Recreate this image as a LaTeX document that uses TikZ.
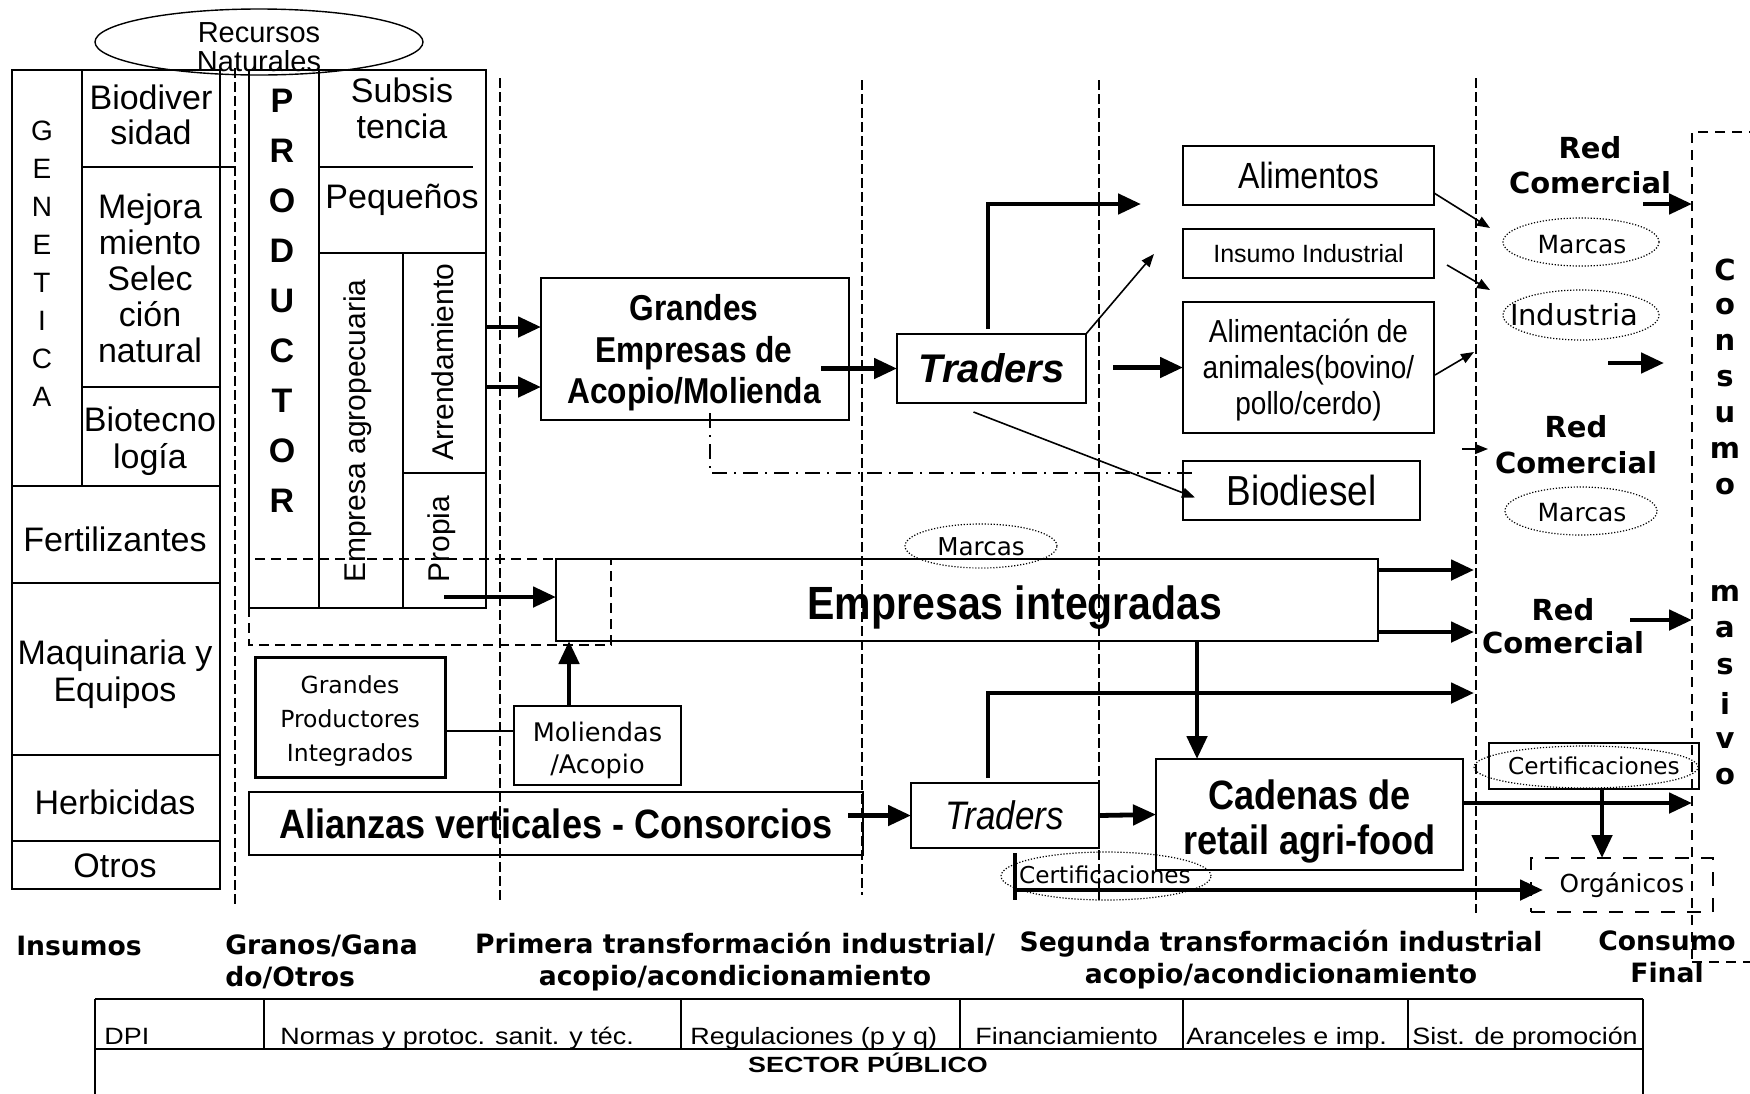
\documentclass[tikz,border=0pt]{standalone}
\usepackage{fontspec}
\setmainfont{Liberation Sans}
\newfontfamily\verd{DejaVu Sans}
\newfontfamily\ancha[FakeStretch=1.22]{Liberation Sans}
\newfontfamily\celdafont[FakeStretch=1.14]{Liberation Sans}
\newfontfamily\angosta[FakeStretch=0.88]{Liberation Sans}
\usetikzlibrary{arrows.meta, shapes.geometric, positioning, calc}

\newcommand{\tam}[2]{\fontsize{#1}{#2}\selectfont}

\tikzset{
  caja/.style={draw, line width=0.8pt, inner sep=0pt, outer sep=0pt, align=center},
  celda/.style={line width=0.9pt},
  guia/.style={dash pattern=on 5pt off 2pt, line width=0.6pt},
  raya/.style={dash pattern=on 5pt off 3pt, line width=0.7pt},
  rayagruesa/.style={dash pattern=on 5pt off 3.5pt, line width=1.3pt},
  rayapunto/.style={dash pattern=on 7.5pt off 3.5pt on 1pt off 3.5pt, line width=0.7pt},
  flecha/.style={line width=2.4pt, -{Triangle[length=11.5pt,width=10pt]}},
  flechita/.style={line width=0.8pt, -{Triangle[length=6.5pt,width=5pt]}},
  nube/.style={ellipse, draw, dash pattern=on 0.6pt off 0.9pt, line width=0.6pt, inner sep=0pt},
  nubetxt/.style={font=\verd\tam{12.5}{12.5}},
  redcom/.style={font=\verd\bfseries\tam{14.5}{17.5}, align=center},
  rotulo/.style={font=\verd\bfseries\tam{13.3}{16}, align=center, inner sep=0pt},
  letra/.style={font=\bfseries\tam{17}{17}},
  tabla/.style={font=\celdafont\tam{11.8}{11.8}, anchor=base west, inner sep=0pt},
  texto/.style={align=center, inner sep=0pt},
}

\begin{document}
\begin{tikzpicture}[x=0.5pt, y=-0.5pt]
\useasboundingbox (0,0) rectangle (1750,1093);

\draw[celda] (12,70) rectangle (220,889);
\draw[celda] (82,70) -- (82,486);
\draw[celda] (82,167) -- (235,167);
\draw[celda] (82,387) -- (220,387);
\foreach \y in {486,583,755,841}
  \draw[celda] (12,\y) -- (220,\y);
\foreach \l [count=\i from 0] in {G,E,N,E,T,I,C,A}
  \node[font=\tam{14}{14}] (gen\i) at (42,131+38*\i) {\l};
\node[font=\tam{17}{17.5}, align=center] (biodiv) at (151,115) {Biodiver\\sidad};
\node[font=\tam{17}{18}, align=center] (mejora) at (150,278) {Mejora\\miento\\Selec\\ción\\natural};
\node[font=\tam{17}{18.5}, align=center] (biotec) at (150,441) {Biotecno\\logía};
\node[font=\tam{17}{17}] (fert) at (115,539) {Fertilizantes};
\node[font=\tam{17}{18.5}, align=center] (maq) at (115,674) {Maquinaria y\\Equipos};
\node[font=\tam{17}{17}] (herb) at (115,802) {Herbicidas};
\node[font=\tam{17}{17}] (otros) at (115,866) {Otros};

\draw[celda] (249,70) rectangle (486,608);
\draw[celda] (319,70) -- (319,608);
\draw[celda] (319,167) -- (473,167);
\draw[celda] (319,253) -- (486,253);
\draw[celda] (403,253) -- (403,608);
\draw[celda] (403,473) -- (486,473);
\foreach \l [count=\i from 0] in {P,R,O,D,U,C,T,O,R}
  \node[letra] (prod\i) at (282,101+50*\i) {\l};
\node[font=\tam{17}{18}, align=center] (subs) at (402,108) {Subsis\\tencia};
\node[font=\tam{17}{17}] (peq) at (402,200) {Pequeños};
\node[font=\tam{15}{15}, rotate=90] (empagro) at (358,431) {Empresa agropecuaria};
\node[font=\tam{15}{15}, rotate=90] (arrend) at (443,362) {Arrendamiento};
\node[font=\tam{15}{15}, rotate=90] (propia) at (442,539) {Propia};

\node[ellipse, draw, line width=0.7pt, minimum width=164pt, minimum height=33pt] (recursos) at (259,42) {};
\node[font=\tam{14.5}{14.5}, align=center] (recursostxt) at (259,47) {Recursos\\Naturales};

\foreach \x/\a/\b in {235/68/905, 500/78/902, 862/80/895, 1099/80/900, 1476/78/913}
  \draw[guia] (\x,\a) -- (\x,\b);
\draw[raya] (249,559) rectangle (611,645);

\node[caja, minimum width=154pt, minimum height=71pt] (grandes) at (695,349) {};
\node[texto, font=\angosta\bfseries\tam{18}{20.75}] (grandestxt) at (694,353) {Grandes\\Empresas de\\Acopio/Molienda};
\node[caja, minimum width=94.5pt, minimum height=34.5pt, font=\bfseries\itshape\tam{20}{20}] (tradersA) at (991.5,368.5) {Traders};
\node[caja, minimum width=125.5pt, minimum height=29.5pt, font=\angosta\tam{18.2}{18.2}] (alim) at (1308.5,175.5) {Alimentos};
\node[caja, minimum width=125.5pt, minimum height=24.5pt, font=\tam{12.5}{12.5}] (insumo) at (1308.5,253.5) {Insumo Industrial};
\node[caja, minimum width=125.5pt, minimum height=65.5pt] (alimani) at (1308.5,367.5) {};
\node[texto, font=\angosta\tam{15.9}{18}] (alimanitxt) at (1308.5,370) {Alimentación de\\animales(bovino/\\pollo/cerdo)};
\node[caja, minimum width=118.5pt, minimum height=29.5pt, font=\angosta\tam{21}{21}] (biodiesel) at (1301.5,490.5) {Biodiesel};

\node[caja, minimum width=411pt, minimum height=41pt] (integ) at (967,600) {};
\node[texto, font=\angosta\bfseries\tam{23.3}{23.3}] (integtxt) at (1015,608) {Empresas integradas};
\node[caja, line width=1.5pt, minimum width=95pt, minimum height=60pt] (gpi) at (350,717) {};
\node[texto, font=\verd\tam{11.75}{17}] (gpitxt) at (350,721) {Grandes\\Productores\\Integrados};
\node[caja, minimum width=83.5pt, minimum height=39.5pt] (moli) at (597.5,745.5) {};
\node[texto, font=\verd\tam{12.8}{16}] (molitxt) at (597.5,750) {Moliendas\\/Acopio};
\node[caja, minimum width=307pt, minimum height=31.5pt, font=\angosta\bfseries\tam{20.5}{20.5}] (alianzas) at (556,823.5) {Alianzas verticales - Consorcios};
\node[caja, minimum width=94pt, minimum height=32.5pt, font=\angosta\itshape\tam{19.9}{19.9}] (tradersB) at (1005,815.5) {Traders};
\node[caja, minimum width=153.5pt, minimum height=55.5pt] (cadenas) at (1309.5,814.5) {};
\node[texto, font=\angosta\bfseries\tam{20.5}{22.5}] (cadenastxt) at (1309.5,821) {Cadenas de\\retail agri-food};
\node[caja, minimum width=105pt, minimum height=23pt, font=\verd\tam{11.6}{11.6}] (certbox) at (1594,766) {Certificaciones};
\node[caja, rayagruesa, dash pattern=on 7pt off 6pt, minimum width=91pt, minimum height=27pt, font=\verd\tam{12.4}{12.4}] (org) at (1622,885) {Orgánicos};

\node[draw, rayagruesa, inner sep=0pt, outer sep=0pt, minimum width=60pt, minimum height=415pt] (consumo) at (1752,547) {};
\foreach \l [count=\i from 0] in {C,o,n,s,u,m,o}
  \node[font=\verd\bfseries\tam{14.5}{14.5}] (cons\i) at (1725,270+36.1*\i) {\l};
\foreach \l [count=\i from 0] in {m,a,s,i,v,o}
  \node[font=\verd\bfseries\tam{14.5}{14.5}] (mas\i) at (1725,593+36.8*\i) {\l};

\node[nube, minimum width=78pt, minimum height=24pt] (marcasA) at (1581,242) {};
\node[nubetxt] (marcasAtxt) at (1582,245) {Marcas};
\node[nube, minimum width=78pt, minimum height=25pt] (industria) at (1581,315) {};
\node[nubetxt, font=\verd\tam{14.5}{14.5}] (industriatxt) at (1574,315) {Industria};
\node[nube, minimum width=76pt, minimum height=24pt] (marcasB) at (1581,511) {};
\node[nubetxt] (marcasBtxt) at (1582,513) {Marcas};
\node[nube, minimum width=76pt, minimum height=22pt] (marcasC) at (981,546) {};
\node[nubetxt, font=\verd\tam{12.3}{12.3}] (marcasCtxt) at (981,547) {Marcas};
\node[nube, minimum width=112pt, minimum height=21pt] (certnubeA) at (1586,767) {};
\node[nube, minimum width=105pt, minimum height=24pt] (certnubeB) at (1106,876) {};
\node[nubetxt, font=\verd\tam{11.6}{11.6}] (certnubeBtxt) at (1105,875) {Certificaciones};

\node[redcom] (redA) at (1590,165) {Red\\Comercial};
\node[redcom, font=\verd\bfseries\tam{14.5}{18}] (redB) at (1576,445) {Red\\Comercial};
\node[redcom, font=\verd\bfseries\tam{14.5}{16.5}] (redC) at (1563,626) {Red\\Comercial};

\coordinate (prodA) at (486,327);
\coordinate (prodB) at (486,387);
\coordinate (propsal) at (444,597);
\coordinate (alimllega) at (1141,204);
\coordinate (insllega) at (1154,254);
\coordinate (marcasllega) at (1490,228);
\coordinate (indllega) at (1490,290);
\coordinate (animllega) at (1474,352);
\coordinate (redBsale) at (1462,449);
\coordinate (redBllega) at (1488,449);
\coordinate (redAsale) at (1643,204);
\coordinate (medsale) at (1608,363);
\coordinate (medllega) at (1664,363);
\coordinate (redCsale) at (1630,620);
\coordinate (integA) at ($(integ.north east)+(0,11)$);
\coordinate (integB) at ($(integ.south east)+(0,-9)$);
\coordinate (bajada) at (1197,700);
\coordinate (traderssube) at (1474,693);
\coordinate (molisube) at ($(moli.north)+(-28.5,0)$);
\coordinate (gpimid) at ($(gpi.east)+(0,14)$);
\coordinate (cadsal) at ($(cadenas.east)+(0,-11.5)$);
\coordinate (certbaja) at ($(certbox.south)+(8,0)$);
\coordinate (barT) at (1015,853);
\coordinate (barB) at (1015,900);
\coordinate (certarr) at (1015,890);
\coordinate (orgtip) at ($(org.west)+(12,5)$);
\coordinate (guia5) at (1474,78);

\draw[flecha] (prodA) -- (prodA -| grandes.west);
\draw[flecha] (prodB) -- (prodB -| grandes.west);
\draw[flecha] (propsal) -- (propsal -| integ.west);
\draw[flecha] ($(grandes.east |- tradersA.west)+(-28,0)$) -- (tradersA.west);
\draw[rayapunto] ($(grandes.south)+(15,-7)$) |- ($(biodiesel.west)+(14,-17.5)$);
\draw[flecha] ($(tradersA.north)+(-3.5,-5)$) |- (alimllega);
\draw[flechita] (tradersA.north east) -- (insllega);
\draw[flecha] ($(alimani.west)+(-70,0)$) -- (alimani.west);
\draw[flechita] ($(tradersA.south)+(-18,9)$) -- ($(biodiesel.west)+(12,7)$);
\draw[flechita] ($(alim.south east)+(0,-12)$) -- (marcasllega);
\draw[flechita] ($(insumo.east)+(13,11.5)$) -- (indllega);
\draw[flechita] ($(alimani.east)+(1,7.5)$) -- (animllega);
\draw[flechita] (redBsale) -- (redBllega);
\draw[flecha] (redAsale) -- (redAsale -| consumo.west);
\draw[flecha] (medsale) -- (medllega);
\draw[flecha] (redCsale) -- (redCsale -| consumo.west);
\draw[flecha] (integA) -- (integA -| guia5);
\draw[flecha] (integB) -- (integB -| guia5);
\draw[flecha] (integ.south -| bajada) -- (cadenas.north -| bajada);
\draw[line width=0.8pt] (gpimid) -- (gpimid -| moli.west);
\draw[flecha] (molisube) -- (molisube |- integ.south);
\draw[flecha] ($(alianzas.east)+(-15,-8)$) -- (tradersB.west);
\draw[flecha] ($(tradersB.north)+(-17,-5)$) |- (traderssube);
\draw[flecha] (tradersB.east) -- (cadenas.west);
\draw[flecha] (cadsal) -- (cadsal -| consumo.west);
\draw[flecha] (certbaja) -- (certbaja |- org.north);
\draw[line width=1.6pt] (barT) -- (barB);
\draw[flecha] (certarr) -- (orgtip);

\node[rotulo] (insumos) at (79,946) {Insumos};
\node[rotulo, anchor=west, align=left] (granos) at (225,962) {Granos/Gana\\do/Otros};
\node[rotulo] (primera) at (735,962) {Primera transformación industrial/\\acopio/acondicionamiento};
\node[rotulo] (segunda) at (1281,960) {Segunda transformación industrial\\acopio/acondicionamiento};
\node[rotulo] (final) at (1667,957) {Consumo\\Final};

\draw[line width=1pt] (95,999) -- (1643,999);
\draw[line width=1pt] (95,1049) -- (1643,1049);
\draw[celda] (95,999) -- (95,1100);
\draw[celda] (1643,999) -- (1643,1100);
\foreach \x in {264,681,960,1183,1408}
  \draw[celda] (\x,999) -- (\x,1049);
\node[tabla] (dpi) at (104,1044) {DPI};
\node[tabla] (normas) at (280,1044) {Normas y protoc. sanit. y téc.};
\node[tabla] (regul) at (690,1044) {Regulaciones (p y q)};
\node[tabla] (financ) at (975,1044) {Financiamiento};
\node[tabla] (arancel) at (1186,1044) {Aranceles e imp.};
\node[tabla] (promo) at (1412,1044) {Sist. de promoción};
\node[font=\ancha\bfseries\tam{11}{11}, anchor=base, inner sep=0pt] (sector) at (868,1072) {SECTOR PÚBLICO};
\end{tikzpicture}
\end{document}
